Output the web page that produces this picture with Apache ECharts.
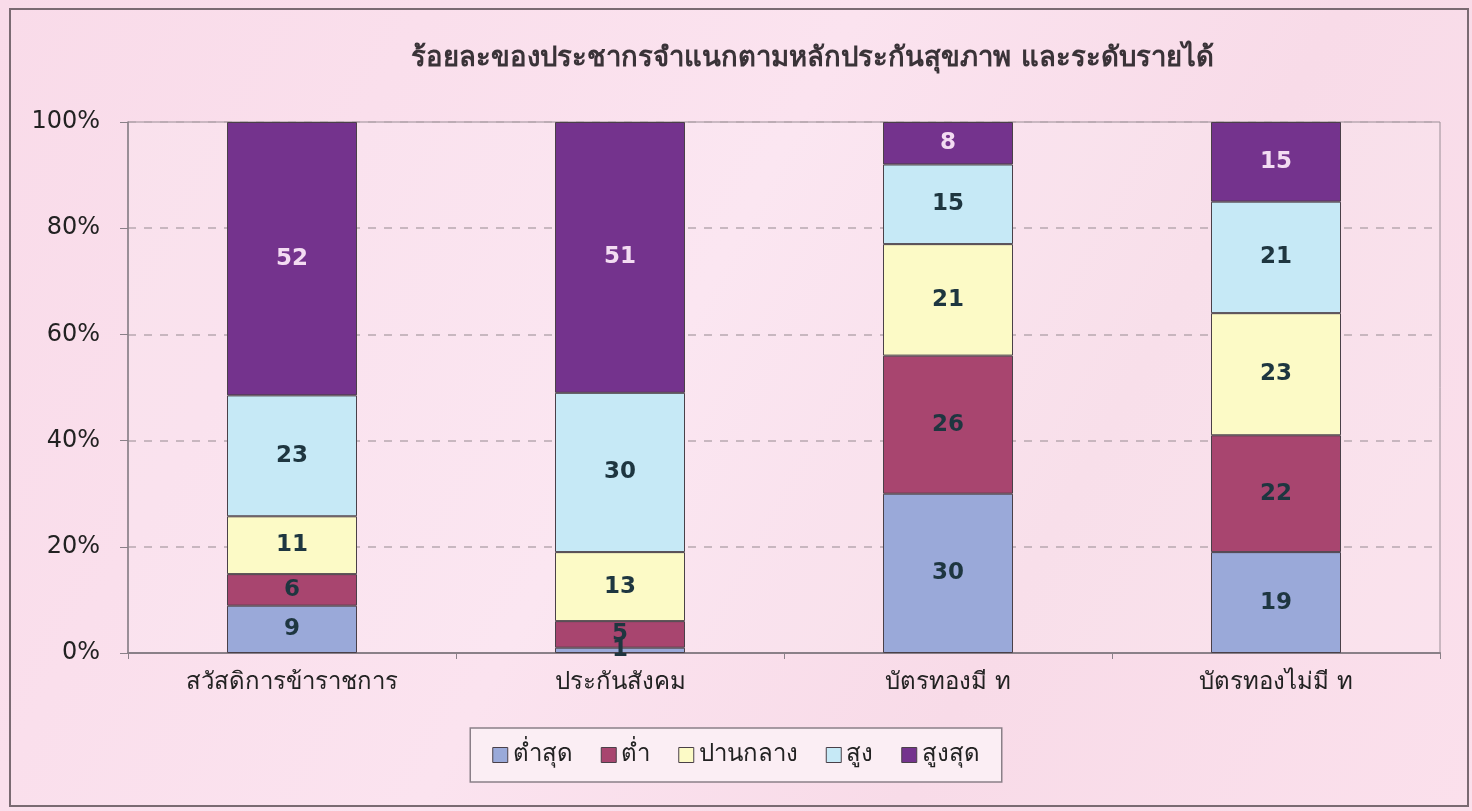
<!DOCTYPE html>
<html>
<head>
<meta charset="utf-8">
<title>ร้อยละของประชากรจำแนกตามหลักประกันสุขภาพ</title>
<script src="https://cdn.jsdelivr.net/npm/echarts@6/dist/echarts.min.js"></script>
<style>
  html, body { margin: 0; padding: 0; }
  #chart { width: 1472px; height: 811px; }
</style>
</head>
<body>
<div id="chart"></div>
<script>
  // หมวดหลักประกันสุขภาพ
  var categories = ['สวัสดิการข้าราชการ', 'ประกันสังคม', 'บัตรทองมี ท', 'บัตรทองไม่มี ท']
  var seriesNames = ['ต่ำสุด', 'ต่ำ', 'ปานกลาง', 'สูง', 'สูงสุด']
  // ค่าที่อ่านได้จากป้ายในแท่ง
  var lowest = [9, 1, 30, 19]
  var low = [6, 5, 26, 22]
  var middle = [11, 13, 21, 23]
  var high = [23, 30, 15, 21]
  var highest = [52, 51, 8, 15]
  var yTicks = ['0%', '20%', '40%', '60%', '80%', '100%']

  var colors = ['#9aa9d9', '#a8456f', '#fcfac6', '#c6e9f6', '#74338d']
  var rows = [lowest, low, middle, high, highest]

  // แปลงเป็นร้อยละของแต่ละแท่ง (100% stacked)
  var totals = categories.map(function (c, i) {
    return rows.reduce(function (s, r) { return s + r[i] }, 0)
  })

  var font = "'DejaVu Sans', 'Noto Sans', sans-serif"

  var series = rows.map(function (row, si) {
    return {
      name: seriesNames[si],
      type: 'bar',
      stack: 'all',
      barWidth: 130,
      itemStyle: { color: colors[si], borderColor: '#4a4048', borderWidth: 1 },
      label: {
        show: true,
        position: 'inside',
        fontSize: 23,
        fontWeight: 'bold',
        fontFamily: font,
        color: si === 4 ? '#f3dcf2' : '#1e3640',
        formatter: function (p) { return row[p.dataIndex] }
      },
      data: row.map(function (v, i) { return v / totals[i] * 100 })
    }
  })

  var chart = echarts.init(document.getElementById('chart'))
  chart.setOption({
    backgroundColor: {
      type: 'linear', x: 0, y: 0, x2: 1, y2: 1,
      colorStops: [
        { offset: 0, color: '#f9dbe9' },
        { offset: 0.45, color: '#fbe3ef' },
        { offset: 0.7, color: '#f8dbe8' },
        { offset: 1, color: '#fbe0ec' }
      ]
    },
    title: {
      text: 'ร้อยละของประชากรจำแนกตามหลักประกันสุขภาพ และระดับรายได้',
      left: 406,
      top: 40,
      textStyle: { fontSize: 27.5, fontWeight: 'bold', color: '#3a3338', fontFamily: font }
    },
    graphic: [{
      type: 'rect',
      shape: { x: 10, y: 9, width: 1458, height: 797 },
      style: { fill: 'none', stroke: '#7a6a72', lineWidth: 2 },
      silent: true
    }],
    legend: {
      data: seriesNames,
      left: 'center',
      top: 728,
      padding: [15, 22],
      itemGap: 28,
      itemWidth: 15,
      itemHeight: 15,
      icon: 'rect',
      backgroundColor: '#fbeef4',
      borderColor: '#8a8088',
      borderWidth: 1.5,
      textStyle: { fontSize: 24, color: '#222', fontFamily: font },
      itemStyle: { borderColor: '#4a4048', borderWidth: 1 }
    },
    grid: {
      left: 128, right: 32, top: 122, bottom: 158,
      show: true,
      backgroundColor: 'rgba(255,255,255,0.12)',
      borderColor: '#9a8e96',
      borderWidth: 1
    },
    xAxis: {
      type: 'category',
      data: categories,
      axisLine: { lineStyle: { color: '#8a8088', width: 2 } },
      axisTick: { show: true, length: 6, lineStyle: { color: '#8a8088' } },
      axisLabel: { fontSize: 24, color: '#222', margin: 18, fontFamily: font }
    },
    yAxis: {
      type: 'value',
      min: 0,
      max: 100,
      interval: 20,
      axisLine: { show: true, lineStyle: { color: '#8a8088', width: 1.5 } },
      axisTick: { show: true, length: 8, lineStyle: { color: '#8a8088' } },
      axisLabel: {
        fontSize: 24, color: '#222', margin: 28, fontFamily: font,
        formatter: function (v) { return yTicks[v / 20] }
      },
      splitLine: { lineStyle: { color: '#b8a8b0', type: [8, 8], width: 1.5 } }
    },
    series: series
  })
</script>
</body>
</html>
